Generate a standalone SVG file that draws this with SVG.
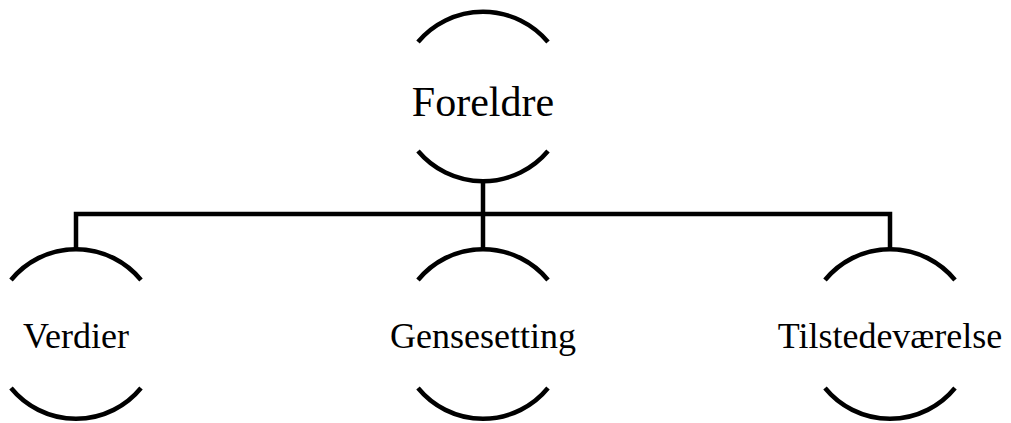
<svg xmlns="http://www.w3.org/2000/svg" width="1011" height="423" viewBox="0 0 1011 423">
  <style>
    .arc { fill: none; stroke: #000; stroke-width: 4.5; }
    .link { fill: none; stroke: #000; stroke-width: 4.5; stroke-linejoin: miter; }
    .label { font-family: "Liberation Serif", "Times New Roman", serif; fill: #000; text-anchor: middle; }
    .top { font-size: 42px; }
    .sub { font-size: 36px; }
  </style>
  <rect width="1011" height="423" fill="#fff"/>

  <!-- tree links -->
  <g id="connectors">
    <line class="link" x1="483" y1="181" x2="483" y2="214"/>
    <polyline class="link" points="76,250 76,214 890,214 890,250"/>
    <line class="link" x1="483" y1="214" x2="483" y2="250"/>
  </g>

  <!-- root node: open circle, upper and lower arcs -->
  <g id="node-foreldre">
    <path class="arc" d="M418,42 A85,85 0 0 1 548,42"/>
    <path class="arc" d="M418,151 A85,85 0 0 0 548,151"/>
    <text class="label top" x="483" y="116">Foreldre</text>
  </g>

  <g id="node-verdier">
    <path class="arc" d="M11,280 A84,84 0 0 1 141,280"/>
    <path class="arc" d="M11,388 A84,84 0 0 0 141,388"/>
    <text class="label sub" x="76" y="348">Verdier</text>
  </g>

  <g id="node-gensesetting">
    <path class="arc" d="M418,280 A84,84 0 0 1 548,280"/>
    <path class="arc" d="M418,388 A84,84 0 0 0 548,388"/>
    <text class="label sub" x="483" y="348">Gensesetting</text>
  </g>

  <g id="node-tilstedevaerelse">
    <path class="arc" d="M825,280 A84,84 0 0 1 955,280"/>
    <path class="arc" d="M825,388 A84,84 0 0 0 955,388"/>
    <text class="label sub" x="890" y="348">Tilstedeværelse</text>
  </g>
</svg>
